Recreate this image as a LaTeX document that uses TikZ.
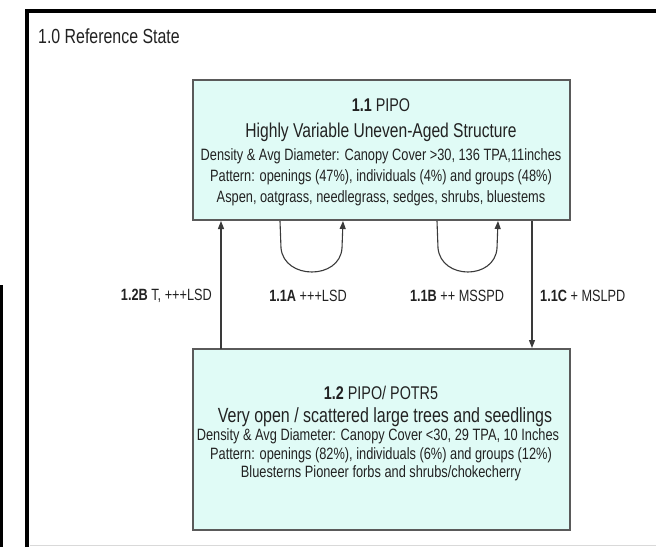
\documentclass[tikz,border=0pt]{standalone}
\usepackage{fontspec}
\setmainfont{Liberation Sans}[FakeStretch=0.78]
\usetikzlibrary{arrows.meta,calc}
\definecolor{boxfill}{HTML}{E0FBF6}
\definecolor{boxline}{HTML}{5A5A5A}
\definecolor{ink}{HTML}{222222}
\definecolor{wire}{HTML}{3A3A3A}
\begin{document}
\begin{tikzpicture}[x=1pt,y=-1pt,
  statebox/.style={draw=boxline,line width=1.8pt,fill=boxfill},
  txt/.style={inner sep=0pt,text=ink,font=\fontsize{16.4}{18}\selectfont},
  head/.style={txt,font=\fontsize{18.4}{20}\selectfont\bfseries},
  sub/.style={txt,font=\fontsize{20}{22}\selectfont},
  lbl/.style={txt,font=\fontsize{16.3}{18}\selectfont},
  flow/.style={draw=wire,line width=1.1pt,-{Triangle[length=8pt,width=6pt]}}]
\useasboundingbox (0,0) rectangle (656,547);
\fill[white] (0,0) rectangle (656,547);

% outer frame of the reference state
\draw[line width=4.5pt,black] (27,547) -- (27,11) -- (656,11);
\draw[line width=3pt,black] (1,285) -- (1,547);
\draw[line width=0.8pt,black!15] (30,545) -- (656,545);
\node[txt,anchor=west,font=\fontsize{20.4}{22}\selectfont] (title) at (38,36) {1.0 Reference State};

% state 1.1
\draw[statebox] (193,80) rectangle (570,220);
\node[head] (s11a) at (381,105) {1.1 \mdseries PIPO};
\node[sub]  (s11b) at (381,132) {Highly Variable Uneven-Aged Structure};
\node[txt]  (s11c) at (381,156) {Density \& Avg Diameter: Canopy Cover >30, 136 TPA,11inches};
\node[txt]  (s11d) at (381,177) {Pattern: openings (47\%), individuals (4\%) and groups (48\%)};
\node[txt]  (s11e) at (381,198) {Aspen, oatgrass, needlegrass, sedges, shrubs, bluestems};

% state 1.2
\draw[statebox] (193,349) rectangle (570,530);
\node[head] (s12a) at (381,393) {1.2 \mdseries PIPO/ POTR5};
\node[sub,font=\fontsize{20.5}{22}\selectfont] (s12b) at (385,417) {Very open / scattered large trees and seedlings};
\node[txt]  (s12c) at (378,436) {Density \& Avg Diameter: Canopy Cover <30, 29 TPA, 10 Inches};
\node[txt]  (s12d) at (381,455) {Pattern: openings (82\%), individuals (6\%) and groups (12\%)};
\node[txt]  (s12e) at (381,473) {Bluesterns Pioneer forbs and shrubs/chokecherry};

% attachment points on the box edges
\coordinate (up1) at (221,349);  \coordinate (up2) at (221,221);
\coordinate (dn1) at (532,221);  \coordinate (dn2) at (532,348);
\coordinate (a1) at (280,221);   \coordinate (a2) at (343,221);
\coordinate (b1) at (437,221);   \coordinate (b2) at (498,221);

% transitions
\draw[flow] (up1) -- (up2);
\draw[flow] (dn1) -- (dn2);
\draw[flow] (a1) -- (281,248) .. controls (284,280) and (340,280) .. (342,248) -- (a2);
\draw[flow] (b1) -- (438,248) .. controls (441,280) and (495,280) .. (497,248) -- (b2);

% transition labels
\node[lbl,anchor=east] (l12b) at (212,296) {\textbf{1.2B} T, +++LSD};
\node[lbl] (l11a) at (308,296) {\textbf{1.1A} +++LSD};
\node[lbl] (l11b) at (457,296) {\textbf{1.1B} ++ MSSPD};
\node[lbl,anchor=west] (l11c) at (540,296) {\textbf{1.1C} + MSLPD};
\end{tikzpicture}
\end{document}
